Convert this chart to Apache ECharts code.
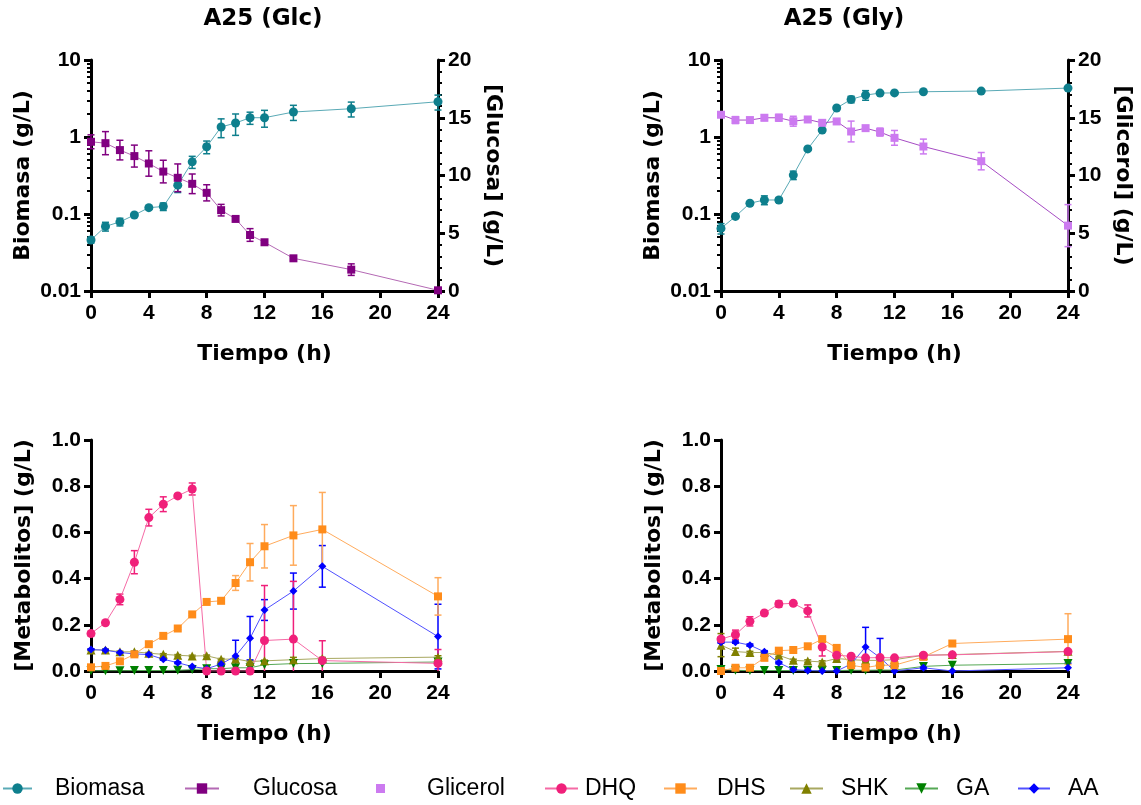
<!DOCTYPE html>
<html>
<head>
<meta charset="utf-8">
<title>A25 Glc / Gly</title>
<script src="https://cdn.jsdelivr.net/npm/echarts@6.0.0/dist/echarts.min.js"></script>
<style>
  html, body { margin: 0; padding: 0; background: #fff; }
  #chart { width: 1141px; height: 805px; }
</style>
</head>
<body>
<div id="chart"></div>
<script>
// sampling times (h)
const tTop = [0, 1, 2, 3, 4, 5, 6, 7, 8, 9, 10, 11, 12, 14, 18, 24];
const tBot = [0, 1, 2, 3, 4, 5, 6, 7, 8, 9, 10, 11, 12, 14, 16, 24];

// A25 (Glc) - biomass (log) and glucose
const biomasaGlc = [0.046, 0.069, 0.079, 0.097, 0.121, 0.125, 0.237, 0.476, 0.746, 1.35, 1.52, 1.78, 1.78, 2.11, 2.33, 2.87];
const biomasaGlcSd = [0.004, 0.009, 0.009, 0.005, 0.005, 0.014, 0.047, 0.085, 0.14, 0.37, 0.47, 0.32, 0.44, 0.47, 0.51, 0.63];
const glucosa = [12.92, 12.8, 12.2, 11.68, 11.04, 10.34, 9.8, 9.28, 8.5, 7.0, 6.24, 4.85, 4.22, 2.83, 1.85, 0.06];
const glucosaSd = [0.6, 1.0, 0.85, 0.95, 1.1, 0.98, 1.2, 0.85, 0.7, 0.5, 0.2, 0.55, 0.2, 0.2, 0.5, 0];

// A25 (Gly) - biomass (log) and glycerol
const biomasaGly = [0.065, 0.093, 0.138, 0.152, 0.152, 0.32, 0.70, 1.23, 2.38, 3.08, 3.5, 3.72, 3.74, 3.87, 3.95, 4.32];
const biomasaGlySd = [0.01, 0.004, 0.006, 0.02, 0.01, 0.04, 0.03, 0.05, 0.1, 0.3, 0.5, 0.15, 0.15, 0.1, 0.1, 0.1];
const glicerol = [15.26, 14.8, 14.8, 15.0, 15.0, 14.7, 14.85, 14.56, 14.68, 13.81, 14.1, 13.76, 13.26, 12.51, 11.24, 5.66];
const glicerolSd = [0.15, 0.3, 0.2, 0.25, 0.3, 0.43, 0.15, 0.15, 0.15, 0.9, 0.2, 0.35, 0.64, 0.64, 0.75, 1.82];

// metabolites, Glc
const dhqGlc = [0.162, 0.209, 0.31, 0.471, 0.664, 0.722, 0.758, 0.788, 0, 0, 0, 0, 0.132, 0.138, 0.045, 0.033];
const dhqGlcSd = [0.01, 0.008, 0.023, 0.05, 0.036, 0.032, 0.008, 0.026, 0, 0, 0, 0, 0.238, 0.25, 0.086, 0.06];
const dhsGlc = [0.016, 0.022, 0.042, 0.072, 0.116, 0.152, 0.184, 0.245, 0.299, 0.304, 0.381, 0.471, 0.54, 0.587, 0.613, 0.323];
const dhsGlcSd = [0.005, 0.005, 0.005, 0.005, 0.006, 0.005, 0.005, 0.006, 0.006, 0.012, 0.032, 0.081, 0.094, 0.129, 0.16, 0.081];
const shkGlc = [0.091, 0.091, 0.083, 0.083, 0.077, 0.072, 0.068, 0.065, 0.066, 0.051, 0.052, 0.041, 0.044, 0.049, 0.054, 0.06];
const shkGlcSd = [0.004, 0.004, 0.003, 0.003, 0.003, 0.003, 0.003, 0.003, 0.003, 0.003, 0.003, 0.003, 0.003, 0.01, 0.005, 0.006];
const gaGlc = [0.001, 0.001, 0.001, 0.002, 0.002, 0.002, 0.003, 0.006, 0.01, 0.01, 0.014, 0.014, 0.027, 0.032, 0.033, 0.039];
const aaGlc = [0.093, 0.09, 0.08, 0.074, 0.071, 0.051, 0.036, 0.019, 0.01, 0.03, 0.065, 0.142, 0.264, 0.346, 0.453, 0.149];
const aaGlcSd = [0.003, 0.003, 0.003, 0.003, 0.004, 0.004, 0.004, 0.004, 0.003, 0.01, 0.068, 0.094, 0.045, 0.078, 0.09, 0.14];

// metabolites, Gly
const dhqGly = [0.138, 0.157, 0.215, 0.251, 0.29, 0.293, 0.26, 0.104, 0.068, 0.064, 0.057, 0.058, 0.057, 0.068, 0.07, 0.084];
const dhqGlySd = [0.01, 0.02, 0.02, 0.005, 0.013, 0.005, 0.026, 0.039, 0.005, 0.005, 0.005, 0.005, 0.005, 0.005, 0.005, 0.005];
const dhsGly = [0, 0.014, 0.014, 0.057, 0.088, 0.091, 0.107, 0.138, 0.1, 0.025, 0.015, 0.025, 0.025, 0.061, 0.119, 0.138];
const dhsGlySd = [0.002, 0.005, 0.005, 0.005, 0.005, 0.005, 0.005, 0.012, 0.01, 0.005, 0.012, 0.005, 0.005, 0.005, 0.012, 0.11];
const shkGly = [0.112, 0.084, 0.08, 0.08, 0.068, 0.046, 0.043, 0.039, 0.054, 0.049, 0.046, 0.046, 0.049, 0.068, 0.071, 0.085];
const shkGlySd = [0.05, 0.015, 0.005, 0.005, 0.005, 0.005, 0.005, 0.005, 0.005, 0.005, 0.005, 0.005, 0.005, 0.005, 0.005, 0.005];
const gaGly = [0.007, 0.003, 0.002, 0.002, 0.002, 0.002, 0.002, 0.002, 0.002, 0.003, 0.003, 0.004, 0.004, 0.02, 0.025, 0.032];
const aaGly = [0.125, 0.125, 0.112, 0.083, 0.036, 0.006, 0.002, 0, 0, 0.03, 0.104, 0.058, 0, 0.014, 0, 0.014];
const aaGlySd = [0.005, 0.005, 0.005, 0.005, 0.005, 0.005, 0.002, 0, 0, 0.005, 0.085, 0.083, 0, 0.005, 0, 0.02];

// tick values
const xTicks = [0, 4, 8, 12, 16, 20, 24];
const logMinor = [0.02, 0.03, 0.04, 0.05, 0.06, 0.07, 0.08, 0.09, 0.2, 0.3, 0.4, 0.5, 0.6, 0.7, 0.8, 0.9, 2, 3, 4, 5, 6, 7, 8, 9];

const tickFont = { fontFamily: 'Liberation Sans', fontWeight: 'bold', fontSize: 21, color: '#000' };
const nameFont = { fontFamily: 'DejaVu Sans', fontWeight: 'bold', fontSize: 22, color: '#000' };
const blackLine = { color: '#000', width: 3 };

function xAxis(gi) {
  return {
    type: 'value', gridIndex: gi, min: 0, max: 24, interval: 4,
    name: 'Tiempo (h)', nameLocation: 'middle', nameGap: 52, nameTextStyle: nameFont,
    axisLine: { onZero: false, lineStyle: blackLine },
    axisTick: { length: 7, lineStyle: blackLine },
    axisLabel: Object.assign({ margin: 12 }, tickFont),
    splitLine: { show: false }
  };
}

function logAxis(gi) {
  return {
    type: 'log', gridIndex: gi, min: 0.01, max: 10, logBase: 10, position: 'left',
    name: 'Biomasa (g/L)', nameLocation: 'middle', nameGap: 57, nameTextStyle: nameFont,
    axisLine: { onZero: false, lineStyle: blackLine },
    axisTick: { length: 7, lineStyle: blackLine },
    axisLabel: Object.assign({ margin: 10 }, tickFont),
    splitLine: { show: false }
  };
}

// hidden axis in log10 units, used only to draw the log minor ticks (2..9 per decade)
function logMinorAxis(gi) {
  return {
    type: 'value', gridIndex: gi, min: -2, max: 1, position: 'left',
    axisLine: { show: false, onZero: false },
    axisTick: { show: true, length: 4, lineStyle: { color: '#000', width: 2 },
                customValues: logMinor.map(v => Math.log10(v)) },
    axisLabel: { show: false },
    splitLine: { show: false }
  };
}

function rightAxis(gi, name) {
  return {
    type: 'value', gridIndex: gi, min: 0, max: 20, interval: 5, position: 'right',
    name: name, nameLocation: 'middle', nameGap: 44, nameRotate: -90, nameTextStyle: nameFont,
    axisLine: { onZero: false, lineStyle: blackLine },
    axisTick: { length: 7, lineStyle: blackLine },
    minorTick: { show: true, splitNumber: 5, length: 4, lineStyle: { color: '#000', width: 2 } },
    axisLabel: Object.assign({ margin: 10 }, tickFont),
    splitLine: { show: false }, minorSplitLine: { show: false }
  };
}

function metAxis(gi) {
  return {
    type: 'value', gridIndex: gi, min: 0, max: 1, interval: 0.2, position: 'left',
    name: '[Metabolitos] (g/L)', nameLocation: 'middle', nameGap: 56, nameTextStyle: nameFont,
    axisLine: { onZero: false, lineStyle: blackLine },
    axisTick: { length: 7, lineStyle: blackLine },
    axisLabel: Object.assign({ margin: 10, formatter: v => v.toFixed(1) }, tickFont),
    splitLine: { show: false }
  };
}

function line(name, xs, ys, xi, yi, color, lineColor, symbol, size, rotate) {
  return {
    type: 'line', name: name, xAxisIndex: xi, yAxisIndex: yi,
    data: xs.map((x, i) => [x, ys[i]]),
    symbol: symbol, symbolSize: size, symbolRotate: rotate || 0, showAllSymbol: true,
    itemStyle: { color: color },
    lineStyle: { color: lineColor, width: 1 },
    z: 3, animation: false
  };
}

function errBars(name, xs, ys, sd, xi, yi, color, floor) {
  const data = [];
  xs.forEach((x, i) => {
    if (!sd[i]) return;
    const lo = ys[i] - sd[i];
    data.push([x, Math.max(lo, floor), ys[i] + sd[i], lo < floor ? 1 : 0]);
  });
  return {
    type: 'custom', name: name + ' err', xAxisIndex: xi, yAxisIndex: yi,
    encode: { x: 0, y: [1, 2] }, z: 2, animation: false, silent: true,
    data: data,
    renderItem: function (params, api) {
      const top = api.coord([api.value(0), api.value(2)]);
      const bot = api.coord([api.value(0), api.value(1)]);
      const w = 3.5;
      const st = { stroke: color, lineWidth: 1.5 };
      const children = [
        { type: 'line', shape: { x1: top[0], y1: top[1], x2: bot[0], y2: bot[1] }, style: st },
        { type: 'line', shape: { x1: top[0] - w, y1: top[1], x2: top[0] + w, y2: top[1] }, style: st }
      ];
      if (!api.value(3)) {
        children.push({ type: 'line', shape: { x1: bot[0] - w, y1: bot[1], x2: bot[0] + w, y2: bot[1] }, style: st });
      }
      return { type: 'group', children: children };
    }
  };
}

const C = {
  bio: ['#0e7f8d', '#5aaab6'],
  glc: ['#800080', '#b469b4'],
  gly: ['#cc7af0', '#a64cc4'],
  dhq: ['#f0207a', '#f56aa5'],
  dhs: ['#ff8c1a', '#ffab5c'],
  shk: ['#808000', '#a8a860'],
  ga: ['#008000', '#55a855'],
  aa: ['#0000ff', '#5050ff']
};

const series = [
  // grid 0 : Glc
  errBars('Biomasa', tTop, biomasaGlc, biomasaGlcSd, 0, 0, C.bio[0], 0.01),
  line('Biomasa', tTop, biomasaGlc, 0, 0, C.bio[0], C.bio[1], 'circle', 9),
  errBars('Glucosa', tTop, glucosa, glucosaSd, 0, 1, C.glc[0], 0),
  line('Glucosa', tTop, glucosa, 0, 1, C.glc[0], C.glc[1], 'rect', 8),
  // grid 1 : Gly
  errBars('Biomasa2', tTop, biomasaGly, biomasaGlySd, 1, 3, C.bio[0], 0.01),
  line('Biomasa', tTop, biomasaGly, 1, 3, C.bio[0], C.bio[1], 'circle', 9),
  errBars('Glicerol', tTop, glicerol, glicerolSd, 1, 4, C.gly[0], 0),
  line('Glicerol', tTop, glicerol, 1, 4, C.gly[0], C.gly[1], 'rect', 8),
  // grid 2 : metabolites Glc
  line('GA', tBot, gaGlc, 2, 6, C.ga[0], C.ga[1], 'triangle', 9, 180),
  errBars('SHK1', tBot, shkGlc, shkGlcSd, 2, 6, C.shk[0], 0),
  line('SHK', tBot, shkGlc, 2, 6, C.shk[0], C.shk[1], 'triangle', 9),
  errBars('AA1', tBot, aaGlc, aaGlcSd, 2, 6, C.aa[0], 0),
  line('AA', tBot, aaGlc, 2, 6, C.aa[0], C.aa[1], 'diamond', 8),
  errBars('DHS1', tBot, dhsGlc, dhsGlcSd, 2, 6, C.dhs[1], 0),
  line('DHS', tBot, dhsGlc, 2, 6, C.dhs[0], C.dhs[1], 'rect', 8),
  errBars('DHQ1', tBot, dhqGlc, dhqGlcSd, 2, 6, C.dhq[0], 0),
  line('DHQ', tBot, dhqGlc, 2, 6, C.dhq[0], C.dhq[1], 'circle', 9),
  // grid 3 : metabolites Gly
  line('GA', tBot, gaGly, 3, 7, C.ga[0], C.ga[1], 'triangle', 9, 180),
  errBars('SHK2', tBot, shkGly, shkGlySd, 3, 7, C.shk[0], 0),
  line('SHK', tBot, shkGly, 3, 7, C.shk[0], C.shk[1], 'triangle', 9),
  errBars('AA2', tBot, aaGly, aaGlySd, 3, 7, C.aa[0], 0),
  line('AA', tBot, aaGly, 3, 7, C.aa[0], C.aa[1], 'diamond', 8),
  errBars('DHS2', tBot, dhsGly, dhsGlySd, 3, 7, C.dhs[1], 0),
  line('DHS', tBot, dhsGly, 3, 7, C.dhs[0], C.dhs[1], 'rect', 8),
  errBars('DHQ2', tBot, dhqGly, dhqGlySd, 3, 7, C.dhq[0], 0),
  line('DHQ', tBot, dhqGly, 3, 7, C.dhq[0], C.dhq[1], 'circle', 9)
];

// one legend per entry so each sits where it does in the figure
const legendFont = { fontFamily: 'Liberation Sans', fontSize: 23, color: '#000' };
function leg(name, left, w, pad, extra) {
  return Object.assign({
    data: [name], left: left, top: 777, itemWidth: w, itemHeight: 13, padding: 0,
    selectedMode: false, textStyle: Object.assign({ padding: [0, 0, 0, pad] }, legendFont)
  }, extra || {});
}

const option = {
  backgroundColor: '#fff',
  animation: false,
  title: [
    { text: 'A25 (Glc)', left: 263, top: 8, textAlign: 'center', padding: 0,
      textStyle: { fontFamily: 'DejaVu Sans', fontWeight: 'bold', fontSize: 23, color: '#000' } },
    { text: 'A25 (Gly)', left: 844, top: 8, textAlign: 'center', padding: 0,
      textStyle: { fontFamily: 'DejaVu Sans', fontWeight: 'bold', fontSize: 23, color: '#000' } }
  ],
  grid: [
    { left: 91, top: 60, width: 347, height: 231 },
    { left: 721, top: 60, width: 347, height: 231 },
    { left: 91, top: 440, width: 347, height: 231 },
    { left: 721, top: 440, width: 347, height: 231 }
  ],
  xAxis: [xAxis(0), xAxis(1), xAxis(2), xAxis(3)],
  yAxis: [
    logAxis(0), rightAxis(0, '[Glucosa] (g/L)'), logMinorAxis(0),
    logAxis(1), rightAxis(1, '[Glicerol] (g/L)'), logMinorAxis(1),
    metAxis(2), metAxis(3)
  ],
  legend: [
    leg('Biomasa', 2, 29, 18),
    leg('Glucosa', 184, 34, 29),
    leg('Glicerol', 376, 9, 37, { data: [{ name: 'Glicerol', icon: 'rect' }], itemHeight: 9 }),
    leg('DHQ', 544, 33, 2),
    leg('DHS', 663, 33, 15),
    leg('SHK', 789, 33, 13),
    leg('GA', 904, 33, 13),
    leg('AA', 1017, 32, 13)
  ],
  series: series
};

const chart = echarts.init(document.getElementById('chart'));
chart.setOption(option);
window.onresize = function () { chart.resize(); };
</script>
</body>
</html>
